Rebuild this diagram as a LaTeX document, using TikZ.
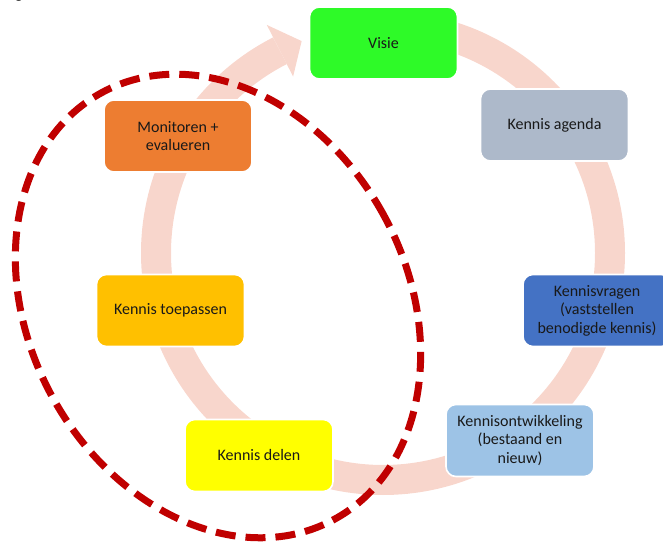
\documentclass[tikz,border=0pt]{standalone}
\usepackage{fontspec}
\setmainfont{Carlito}
\usetikzlibrary{calc}
\begin{document}
\definecolor{bandpink}{RGB}{248,214,204}
\definecolor{loopred}{RGB}{192,0,0}
\definecolor{cVisie}{RGB}{46,250,40}
\definecolor{cAgenda}{RGB}{173,185,202}
\definecolor{cVragen}{RGB}{68,114,196}
\definecolor{cOntw}{RGB}{157,195,230}
\definecolor{cDelen}{RGB}{255,255,0}
\definecolor{cToep}{RGB}{255,192,0}
\definecolor{cMon}{RGB}{237,125,49}
\begin{tikzpicture}[x=0.75pt,y=0.75pt,
  stage/.style={draw=white,line width=1.2pt,rounded corners=7.5pt,
    minimum width=111pt,minimum height=54pt,align=center,
    text=black!90,font=\fontsize{12}{13.8}\selectfont,inner sep=2pt}]
\useasboundingbox (0,0) rectangle (663,542);

% heading descender cut by the top edge
\node[anchor=base,inner sep=0pt,font=\fontsize{12}{14}\selectfont] (head) at (19,543) {g};

% cycle band with arrowhead pointing at the first stage
\coordinate (ctr) at (383,289);
\draw[bandpink,line width=22.5pt] (ctr) ++(90:227) arc[start angle=90,end angle=-243,radius=227];
\fill[bandpink] ($(ctr)+(117:198)$) -- ($(ctr)+(117:256)$) -- ($(ctr)+(111:227)$) -- cycle;

% dashed loop around the last three stages
\draw[loopred,line width=5.25pt,dash pattern=on 15pt off 7.5pt]
  (218,236) ellipse[x radius=189,y radius=243,rotate=28.6];

% stages
\node[stage,fill=cVisie] (visie) at (383.5,499) {Visie};
\node[stage,fill=cAgenda] (agenda) at (554.5,417) {Kennis agenda};
\node[stage,fill=cVragen] (vragen) at (597,231.5) {Kennisvragen\\(vaststellen\\benodigde kennis)};
\node[stage,fill=cOntw] (ontw) at (520,101.5) {Kennisontwikkeling\\(bestaand en\\nieuw)};
\node[stage,fill=cDelen] (delen) at (259,86.5) {Kennis delen};
\node[stage,fill=cToep] (toep) at (170.5,231.5) {Kennis toepassen};
\node[stage,fill=cMon] (mon) at (178,406) {Monitoren +\\evalueren};
\end{tikzpicture}
\end{document}
